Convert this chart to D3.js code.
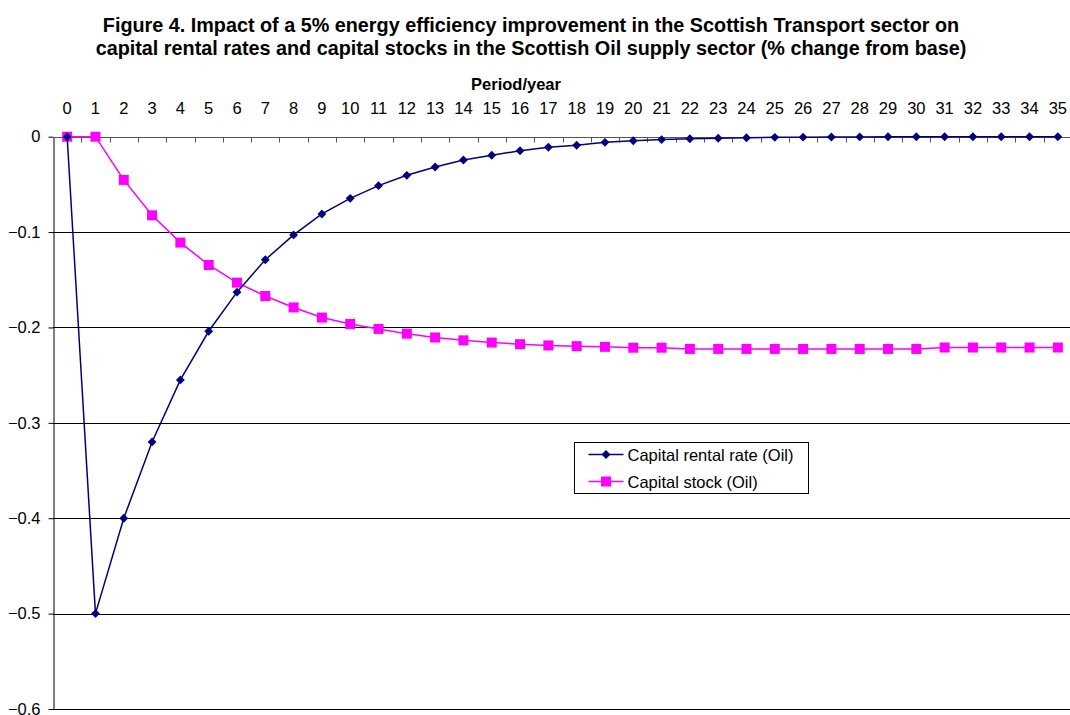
<!DOCTYPE html>
<html>
<head>
<meta charset="utf-8">
<script src="https://cdn.jsdelivr.net/npm/d3@7"></script>
<style>
  body { margin: 0; background: #fff; }
  svg { display: block; font-family: Arial, "Liberation Sans", sans-serif; }
</style>
</head>
<body>
<svg id="chart" width="1070" height="715"></svg>
<script>
// periods on the category axis
const periods = d3.range(0, 36);
const yTicks = [0, -0.1, -0.2, -0.3, -0.4, -0.5, -0.6];

// % change from base
const rentalRate = [0, -0.5, -0.4, -0.32, -0.255, -0.204, -0.163, -0.129, -0.103, -0.081,
  -0.0646, -0.0513, -0.0405, -0.0318, -0.0244, -0.0195, -0.0147, -0.0111, -0.009, -0.0059,
  -0.0042, -0.003, -0.0022, -0.0016, -0.0011, -0.0007, -0.0005, -0.0003, -0.0002, -0.0001,
  -0.0001, 0, 0, 0, 0, 0];
const capitalStock = [0, 0, -0.0453, -0.0824, -0.111, -0.1345, -0.153, -0.167, -0.179, -0.1896,
  -0.1963, -0.2015, -0.2065, -0.2105, -0.2135, -0.2158, -0.2175, -0.2188, -0.2196, -0.2203,
  -0.2212, -0.2212, -0.2225, -0.2225, -0.2225, -0.2225, -0.2225, -0.2225, -0.2225, -0.2225,
  -0.2225, -0.221, -0.221, -0.221, -0.221, -0.221];

const seriesNames = ['Capital rental rate (Oil)', 'Capital stock (Oil)'];

const svg = d3.select('#chart');

const plotLeft = 53, plotRight = 1072, plotTop = 136.7, plotBottom = 709;

const x = d3.scaleBand()
  .domain(periods)
  .range([plotLeft, plotRight])
  .padding(0);

const y = d3.scaleLinear()
  .domain([-0.6, 0])
  .range([plotBottom, plotTop]);

const cx = d => x(d) + x.bandwidth() / 2;

// title
svg.append('text')
  .attr('x', 531).attr('y', 31.5)
  .attr('text-anchor', 'middle')
  .attr('font-size', '19.8px').attr('font-weight', 'bold')
  .text('Figure 4. Impact of a 5% energy efficiency improvement in the Scottish Transport sector on');
svg.append('text')
  .attr('x', 531).attr('y', 54.5)
  .attr('text-anchor', 'middle')
  .attr('font-size', '19.8px').attr('font-weight', 'bold')
  .text('capital rental rates and capital stocks in the Scottish Oil supply sector (% change from base)');

// axis title
svg.append('text')
  .attr('x', 516).attr('y', 90)
  .attr('text-anchor', 'middle')
  .attr('font-size', '16.5px').attr('font-weight', 'bold')
  .text('Period/year');

// gridlines
svg.append('g')
  .selectAll('line')
  .data(yTicks.filter(d => d !== 0))
  .enter()
  .append('line')
  .attr('x1', plotLeft).attr('x2', plotRight)
  .attr('y1', d => Math.round(y(d)) + 0.5)
  .attr('y2', d => Math.round(y(d)) + 0.5)
  .attr('stroke', '#000')
  .attr('stroke-width', 1);

// y axis
const yAxis = svg.append('g')
  .attr('transform', `translate(${plotLeft + 0.5},0)`)
  .call(d3.axisLeft(y).tickValues(yTicks).tickSize(5).tickSizeOuter(0)
    .tickFormat(d => d === 0 ? '0' : d3.format('.1f')(d)));
yAxis.select('.domain').attr('stroke', '#000');
yAxis.selectAll('.tick line').attr('stroke', '#000');
yAxis.selectAll('.tick text')
  .attr('x', -13)
  .attr('font-size', '16.5px')
  .attr('font-family', 'Arial, "Liberation Sans", sans-serif')
  .attr('fill', '#000');

// category axis along the zero line, labels above
const xAxisY = Math.round(y(0)) + 0.5;
svg.append('line')
  .attr('x1', plotLeft).attr('x2', plotRight)
  .attr('y1', xAxisY).attr('y2', xAxisY)
  .attr('stroke', '#555');
svg.append('g')
  .selectAll('line')
  .data(periods.slice(1))
  .enter()
  .append('line')
  .attr('x1', d => Math.round(x(d)) + 0.5)
  .attr('x2', d => Math.round(x(d)) + 0.5)
  .attr('y1', xAxisY).attr('y2', xAxisY + 5)
  .attr('stroke', '#555');
svg.append('g')
  .selectAll('text')
  .data(periods)
  .enter()
  .append('text')
  .attr('x', d => cx(d))
  .attr('y', 114)
  .attr('text-anchor', 'middle')
  .attr('font-size', '16.5px')
  .text(d => d);

const line = d3.line()
  .x((d, i) => cx(periods[i]))
  .y(d => y(d));

// capital stock (magenta squares)
svg.append('path')
  .datum(capitalStock)
  .attr('d', line)
  .attr('fill', 'none')
  .attr('stroke', '#FF00FF')
  .attr('stroke-width', 1.5);
svg.append('g')
  .selectAll('rect')
  .data(capitalStock)
  .enter()
  .append('rect')
  .attr('x', (d, i) => cx(periods[i]) - 5)
  .attr('y', d => y(d) - 5)
  .attr('width', 10).attr('height', 10)
  .attr('fill', '#FF00FF');

// rental rate (navy diamonds)
svg.append('path')
  .datum(rentalRate)
  .attr('d', line)
  .attr('fill', 'none')
  .attr('stroke', '#000080')
  .attr('stroke-width', 1.5);
svg.append('g')
  .selectAll('path')
  .data(rentalRate)
  .enter()
  .append('path')
  .attr('d', d3.symbol(d3.symbolDiamond2, 50))
  .attr('transform', (d, i) => `translate(${cx(periods[i])},${y(d)})`)
  .attr('fill', '#000080');

// legend
const legend = svg.append('g').attr('transform', 'translate(574.5,442.5)');
legend.append('rect')
  .attr('width', 234).attr('height', 51)
  .attr('fill', '#fff').attr('stroke', '#000');

const legendColors = ['#000080', '#FF00FF'];
const items = legend.selectAll('g.item')
  .data(seriesNames)
  .enter()
  .append('g')
  .attr('transform', (d, i) => `translate(0,${12 + i * 27})`);
items.append('line')
  .attr('x1', 14).attr('x2', 49)
  .attr('stroke', (d, i) => legendColors[i])
  .attr('stroke-width', 1.5);
items.filter((d, i) => i === 0).append('path')
  .attr('d', d3.symbol(d3.symbolDiamond2, 50))
  .attr('transform', 'translate(31.5,0)')
  .attr('fill', legendColors[0]);
items.filter((d, i) => i === 1).append('rect')
  .attr('x', 26.5).attr('y', -5)
  .attr('width', 10).attr('height', 10)
  .attr('fill', legendColors[1]);
items.append('text')
  .attr('x', 53).attr('y', 6)
  .attr('font-size', '16.5px')
  .text(d => d);
</script>
</body>
</html>
